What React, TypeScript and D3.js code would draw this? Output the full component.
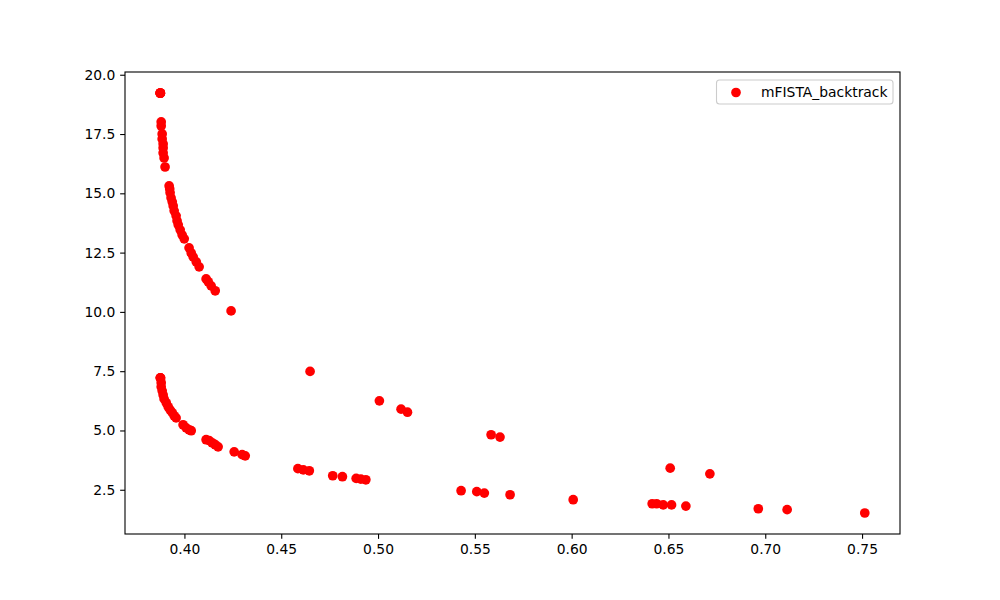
import React, {useRef, useEffect} from "react";
import * as d3 from "d3";

// upper branch (steep part near x ~ 0.39)
const upperX = [
  0.3875, 0.3875, 0.3875, 0.3876, 0.3876, 0.388, 0.388, 0.3885, 0.3885, 0.389,
  0.389, 0.389, 0.3895, 0.39, 0.3921, 0.3924, 0.3926, 0.3931, 0.3937, 0.3942,
  0.3947, 0.3957, 0.3962, 0.3968, 0.3978, 0.3988, 0.3999, 0.4024, 0.4035,
  0.4045, 0.4061, 0.4076, 0.4112, 0.4123, 0.4138, 0.4159, 0.4241,
];
const upperY = [
  19.23, 19.23, 19.22, 19.23, 19.22, 18.01, 17.84, 17.5, 17.29, 17.08, 16.91,
  16.7, 16.49, 16.11, 15.31, 15.18, 15.02, 14.81, 14.64, 14.47, 14.26, 14.05,
  13.84, 13.67, 13.46, 13.25, 13.08, 12.7, 12.49, 12.32, 12.11, 11.9, 11.39,
  11.27, 11.1, 10.89, 10.04,
];

// lower branch
const lowerX = [
  0.3875, 0.3876, 0.3877, 0.388, 0.388, 0.3885, 0.389, 0.3895, 0.3906, 0.3916,
  0.3926, 0.3937, 0.3947, 0.3957, 0.3993, 0.4009, 0.4024, 0.4035, 0.4112,
  0.4128, 0.4143, 0.4159, 0.4174, 0.4257, 0.4298, 0.4314,
];
const lowerY = [
  7.22, 7.22, 7.21, 7.01, 6.84, 6.67, 6.5, 6.33, 6.17, 6.0, 5.87, 5.75, 5.62,
  5.53, 5.24, 5.11, 5.03, 4.99, 4.61, 4.57, 4.48, 4.4, 4.31, 4.1, 3.98, 3.93,
];

// scattered tail
const tailX = [
  0.4649, 0.5007, 0.5119, 0.5152, 0.5584, 0.563, 0.4586, 0.4614, 0.4645,
  0.4766, 0.4816, 0.4887, 0.4911, 0.4937, 0.5429, 0.551, 0.5549, 0.5682,
  0.6008, 0.6416, 0.6439, 0.6473, 0.6516, 0.6509, 0.6714, 0.659, 0.6964,
  0.7113, 0.7514,
];
const tailY = [
  7.49, 6.25, 5.9, 5.77, 4.82, 4.72, 3.39, 3.34, 3.3, 3.09, 3.05, 2.98, 2.95,
  2.92, 2.46, 2.42, 2.36, 2.29, 2.08, 1.91, 1.91, 1.86, 1.86, 3.41, 3.17, 1.81,
  1.7, 1.66, 1.52,
];

const xTicks = [0.4, 0.45, 0.5, 0.55, 0.6, 0.65, 0.7, 0.75];
const yTicks = [2.5, 5.0, 7.5, 10.0, 12.5, 15.0, 17.5, 20.0];
const seriesName = "mFISTA_backtrack";

const App = () => {
  const svgRef = useRef(null);
  const width = 1000;
  const height = 600;
  const left = 125;
  const right = 900;
  const top = 72;
  const bottom = 534;
  const font = "DejaVu Sans, sans-serif";
  const fontSize = 13.89;
  const tick = 4.86;
  const radius = 4.85;

  useEffect(() => {
    const svg = d3.select(svgRef.current);
    svg.selectAll("*").remove();

    const xs = [...upperX, ...lowerX, ...tailX];
    const ys = [...upperY, ...lowerY, ...tailY];
    const points = xs.map((x, i) => [x, ys[i]]);

    // matplotlib style 5% margins
    const [x0, x1] = d3.extent(xs);
    const [y0, y1] = d3.extent(ys);
    const mx = (x1 - x0) * 0.05;
    const my = (y1 - y0) * 0.05;

    const xScale = d3.scaleLinear().domain([x0 - mx, x1 + mx]).range([left, right]);
    const yScale = d3.scaleLinear().domain([y0 - my, y1 + my]).range([bottom, top]);

    // points
    svg
      .append("g")
      .selectAll("circle")
      .data(points)
      .enter()
      .append("circle")
      .attr("cx", (d) => xScale(d[0]))
      .attr("cy", (d) => yScale(d[1]))
      .attr("r", radius)
      .style("fill", "#ff0000");

    // x-axis
    const xAxis = svg
      .append("g")
      .attr("transform", `translate(0, ${bottom})`)
      .call(
        d3
          .axisBottom(xScale)
          .tickValues(xTicks)
          .tickFormat(d3.format(".2f"))
          .tickSize(tick)
          .tickSizeOuter(0)
          .tickPadding(tick)
      );

    // y-axis
    const yAxis = svg
      .append("g")
      .attr("transform", `translate(${left}, 0)`)
      .call(
        d3
          .axisLeft(yScale)
          .tickValues(yTicks)
          .tickFormat(d3.format(".1f"))
          .tickSize(tick)
          .tickSizeOuter(0)
          .tickPadding(tick)
      );

    [xAxis, yAxis].forEach((ax) => {
      ax.select(".domain").remove();
      ax.selectAll("line").style("stroke", "#000").style("stroke-width", 1.1);
      ax.selectAll("text")
        .style("font-family", font)
        .style("font-size", `${fontSize}px`)
        .style("fill", "#000");
    });

    // frame
    svg
      .append("rect")
      .attr("x", left)
      .attr("y", top)
      .attr("width", right - left)
      .attr("height", bottom - top)
      .style("fill", "none")
      .style("stroke", "#000")
      .style("stroke-width", 1.1);

    // legend
    const lg = svg.append("g");
    lg.append("rect")
      .attr("x", 716.5)
      .attr("y", 80)
      .attr("width", 176.5)
      .attr("height", 24)
      .attr("rx", 3)
      .style("fill", "#fff")
      .style("fill-opacity", 0.8)
      .style("stroke", "#cccccc")
      .style("stroke-width", 1.1);
    lg.append("circle")
      .attr("cx", 736)
      .attr("cy", 92.5)
      .attr("r", radius)
      .style("fill", "#ff0000");
    lg.append("text")
      .attr("x", 761)
      .attr("y", 92.5)
      .attr("dy", "0.35em")
      .style("font-family", font)
      .style("font-size", `${fontSize}px`)
      .style("fill", "#000")
      .text(seriesName);
  }, []);

  return (
    <div style={{position: "absolute", left: 0, top: 0}}>
      <svg ref={svgRef} width={width} height={height} style={{display: "block", background: "#fff"}}></svg>
    </div>
  );
};

export default App;
